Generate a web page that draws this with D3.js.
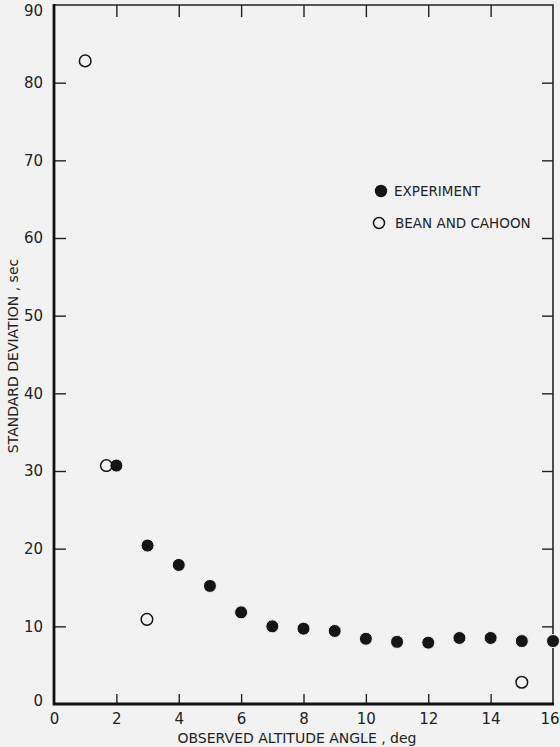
<!DOCTYPE html>
<html>
<head>
<meta charset="utf-8">
<title>Standard deviation vs altitude angle</title>
<style>
  body { margin: 0; background: #f2f2f2; }
  svg { display: block; }
  .tick text { font-family: "DejaVu Sans", sans-serif; font-size: 15px; fill: #222; }
  .tick line { stroke: #222; stroke-width: 1.4; }
  .lbl { font-family: "DejaVu Sans", sans-serif; font-size: 13.5px; fill: #222; }
</style>
</head>
<body>
<script src="https://cdn.jsdelivr.net/npm/d3@7"></script>
<script>

// experiment (filled)
var expAngle = [2, 3, 4, 5, 6, 7, 8, 9, 10, 11, 12, 13, 14, 15, 16];
var expSD    = [30.7, 20.4, 17.9, 15.2, 11.8, 10.0, 9.7, 9.4, 8.4, 8.0, 7.9, 8.5, 8.5, 8.1, 8.1];

// Bean and Cahoon (open)
var bcAngle = [1, 1.68, 2.98, 15];
var bcSD    = [82.8, 30.7, 10.9, 2.8];

var xTicks = [0, 2, 4, 6, 8, 10, 12, 14, 16];
var yTicks = [0, 10, 20, 30, 40, 50, 60, 70, 80, 90];

var w = 560, h = 747;
var padL = 54, padR = 553, padT = 5, padB = 704;

var x = d3.scaleLinear().domain([0, 16]).range([padL, padR]);
var y = d3.scaleLinear().domain([0, 90]).range([padB, padT]);

var svg = d3.select("body").append("svg")
  .attr("width", w)
  .attr("height", h);

// left axis, ticks point inward
var gy = svg.append("g")
  .attr("transform", "translate(" + padL + ",0)")
  .call(d3.axisLeft(y).tickValues(yTicks).tickSizeInner(-12).tickSizeOuter(0).tickPadding(11));
gy.select(".domain").remove();
gy.selectAll(".tick").filter(function(d){ return d == 0 || d == 90; }).select("line").remove();
gy.selectAll(".tick").filter(function(d){ return d == 90; }).select("text").attr("dy", "0.7em");
gy.selectAll(".tick").filter(function(d){ return d == 0; }).select("text").attr("dy", "0.1em");

// bottom axis, ticks point up
var gx = svg.append("g")
  .attr("transform", "translate(0," + padB + ")")
  .call(d3.axisBottom(x).tickValues(xTicks).tickSizeInner(-10).tickSizeOuter(0).tickPadding(9));
gx.select(".domain").remove();
gx.selectAll(".tick").filter(function(d){ return d == 0 || d == 16; }).select("line").remove();
// last label sits against the page edge
gx.selectAll(".tick").filter(function(d){ return d == 16; }).select("text")
  .attr("text-anchor", "end").attr("x", 6);

// top ticks (pointing down) and right ticks (pointing left)
var gt = svg.append("g")
  .attr("transform", "translate(0," + padT + ")")
  .call(d3.axisTop(x).tickValues(xTicks.slice(1, -1)).tickSizeInner(-12).tickSizeOuter(0).tickFormat(""));
gt.select(".domain").remove();

var gr = svg.append("g")
  .attr("transform", "translate(" + padR + ",0)")
  .call(d3.axisRight(y).tickValues(yTicks.slice(1, -1)).tickSizeInner(-11).tickSizeOuter(0).tickFormat(""));
gr.select(".domain").remove();

// frame
svg.append("path")
  .attr("d", "M" + padL + "," + padT + "H" + padR + "V" + padB)
  .attr("fill", "none").attr("stroke", "#222").attr("stroke-width", 1.6);
svg.append("path")
  .attr("d", "M" + padL + "," + (padT - 1) + "V" + padB + "H" + (padR + 1))
  .attr("fill", "none").attr("stroke", "#111").attr("stroke-width", 2.8);

// points
svg.selectAll("circle.exp")
  .data(expAngle)
  .enter().append("circle")
  .attr("class", "exp")
  .attr("cx", function(d){ return x(d); })
  .attr("cy", function(d, i){ return y(expSD[i]); })
  .attr("r", 6.5)
  .attr("fill", "#151515")
  .attr("stroke", "#f2f2f2")
  .attr("stroke-width", 1);

svg.selectAll("circle.bc")
  .data(bcAngle)
  .enter().append("circle")
  .attr("class", "bc")
  .attr("cx", function(d){ return x(d); })
  .attr("cy", function(d, i){ return y(bcSD[i]); })
  .attr("r", 5.8)
  .attr("fill", "none")
  .attr("stroke", "#151515")
  .attr("stroke-width", 1.5);

// legend
svg.append("circle").attr("cx", 381).attr("cy", 191).attr("r", 6.2).attr("fill", "#151515");
svg.append("text").attr("class", "lbl").attr("x", 394).attr("y", 196).text("EXPERIMENT");
svg.append("circle").attr("cx", 379).attr("cy", 223).attr("r", 5.5)
  .attr("fill", "none").attr("stroke", "#151515").attr("stroke-width", 1.5);
svg.append("text").attr("class", "lbl").attr("x", 395).attr("y", 228).text("BEAN AND CAHOON");

// axis titles
svg.append("text").attr("class", "lbl")
  .attr("x", 297).attr("y", 743)
  .attr("text-anchor", "middle")
  .style("font-size", "14px")
  .text("OBSERVED ALTITUDE ANGLE , deg");

svg.append("text").attr("class", "lbl")
  .attr("transform", "translate(18,356) rotate(-90)")
  .attr("text-anchor", "middle")
  .style("font-size", "14px")
  .text("STANDARD DEVIATION , sec");

</script>
</body>
</html>
